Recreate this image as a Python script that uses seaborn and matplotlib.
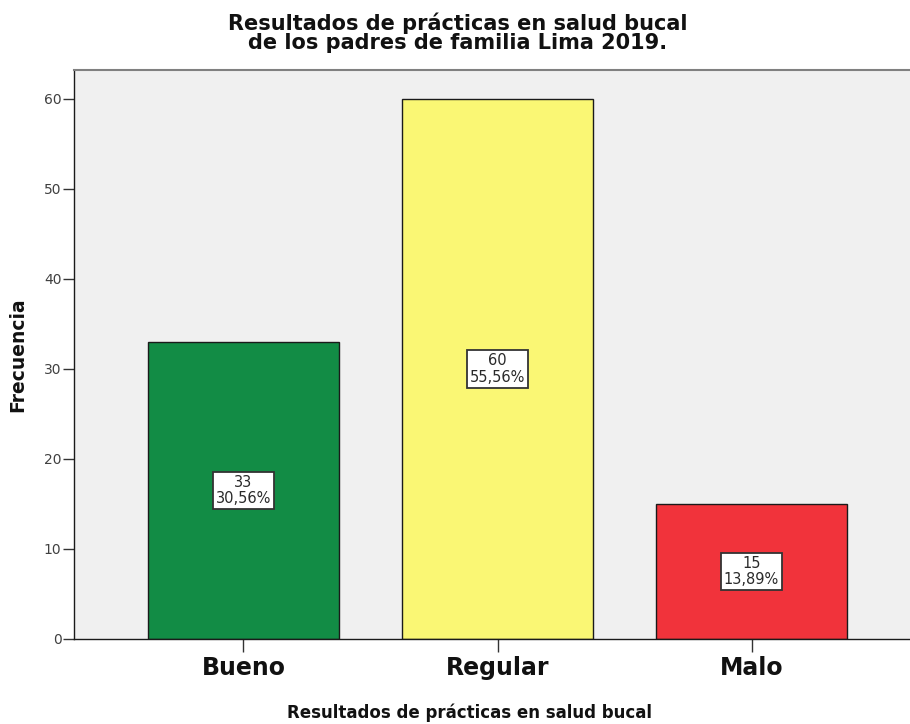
import matplotlib
matplotlib.use("Agg")
import matplotlib.pyplot as plt
import seaborn as sns
import pandas as pd

categories = ["Bueno", "Regular", "Malo"]
counts = [33, 60, 15]
percents = ["30,56%", "55,56%", "13,89%"]
bar_colors = ["#128c45", "#faf774", "#f1333b"]

sns.set_style("white")
plt.rcParams["font.family"] = ["DejaVu Sans"]

df = pd.DataFrame({"cat": categories, "n": counts})

fig = plt.figure(figsize=(9.1, 7.24), dpi=100)
ax = fig.add_axes([74 / 910, 85 / 724, 847 / 910, 569 / 724])
ax.set_facecolor("#f0f0f0")

sns.barplot(data=df, x="cat", y="n", hue="cat", palette=bar_colors,
            saturation=1, width=0.752, edgecolor="#1a1a1a", linewidth=1.0,
            legend=False, ax=ax)

ax.set_xlim(-0.667, 2.667)
ax.set_ylim(0, 63.2)
ax.set_yticks(range(0, 61, 10))

for i, (n, p) in enumerate(zip(counts, percents)):
    ax.text(i, n / 2, f"{n}\n{p}", ha="center", va="center",
            fontsize=10.5, color="#2a2a2a", linespacing=1.12,
            bbox=dict(boxstyle="square,pad=0.22", fc="white",
                      ec="#333333", lw=1.3))

for side in ["left", "bottom"]:
    ax.spines[side].set_color("#1a1a1a")
    ax.spines[side].set_linewidth(1.0)
ax.spines["top"].set_color("#808080")
ax.spines["top"].set_linewidth(1.5)
ax.spines["right"].set_visible(False)

ax.tick_params(axis="y", which="major", left=True, length=8, width=1,
               color="#333333", labelsize=10, labelcolor="#404040", pad=1)
ax.tick_params(axis="x", which="major", bottom=True, length=9, width=1,
               color="#333333", labelsize=17, pad=3)
for lab in ax.get_xticklabels():
    lab.set_fontweight("bold")
    lab.set_color("#111111")

ax.set_xlabel("Resultados de prácticas en salud bucal", fontsize=12,
              fontweight="bold", color="#111111")
ax.xaxis.set_label_coords(0.4675, -0.113)
ax.set_ylabel("Frecuencia", fontsize=13.5, fontweight="bold",
              color="#111111", labelpad=12)

fig.text(458 / 910, 1 - 33 / 724,
         "Resultados de prácticas en salud bucal\nde los padres de familia Lima 2019.",
         ha="center", va="center", fontsize=15, fontweight="bold",
         color="#111111", linespacing=0.95)

fig.savefig("out.png", dpi=100)
